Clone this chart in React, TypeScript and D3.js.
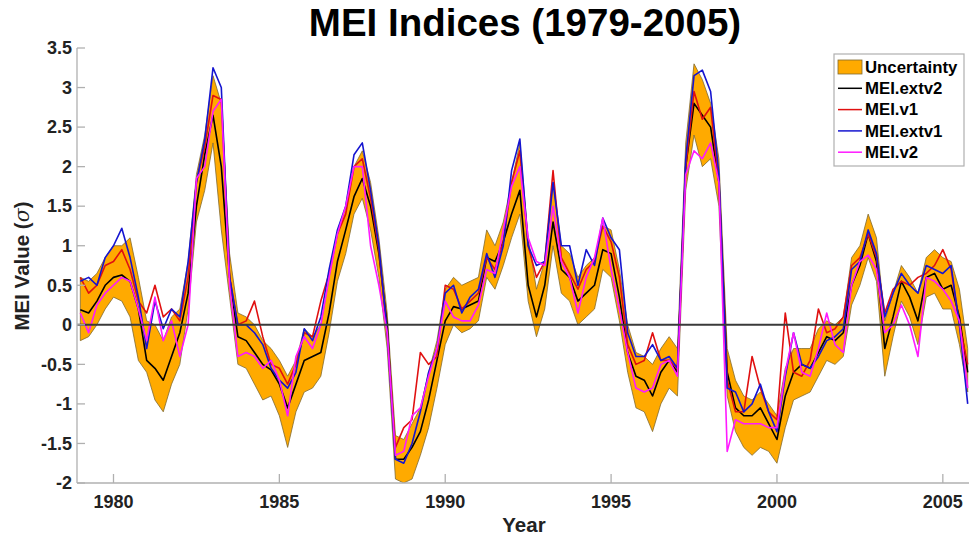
import * as React from 'react';
import * as d3 from 'd3';

// quarterly samples, first one at Jan 1979
const startYear = 1979;

const extv2 = [
  0.19, 0.15, 0.3, 0.5,
  0.6, 0.63, 0.55, 0.2,
  -0.45, -0.55, -0.7, -0.4,
  -0.1, 0.4, 1.5, 2.15,
  2.65, 2.0, 0.6, -0.15,
  -0.2, -0.35, -0.5, -0.57,
  -0.75, -1.05, -0.75, -0.45,
  -0.4, -0.35, 0.15, 0.8,
  1.2, 1.62, 1.85, 1.5,
  0.9, 0.0, -1.7, -1.7,
  -1.55, -1.35, -0.95, -0.45,
  0.05, 0.23, 0.2, 0.25,
  0.3, 0.85, 0.8, 1.05,
  1.4, 1.7, 0.5, 0.1,
  0.5, 1.3, 0.7, 0.6,
  0.3, 0.4, 0.5, 0.95,
  0.9, 0.35, -0.35, -0.65,
  -0.7, -0.9, -0.6, -0.45,
  -0.6, 2.0, 2.8, 2.65,
  2.5, 1.8, -0.6, -1.05,
  -1.15, -1.15, -1.05, -1.25,
  -1.45, -0.9, -0.6, -0.5,
  -0.55, -0.35, -0.15, -0.2,
  -0.1, 0.5, 0.75, 1.15,
  0.8, -0.3, 0.1, 0.55,
  0.35, 0.05, 0.6, 0.65,
  0.45, 0.5, 0.1, -0.6,
];

const v1 = [
  0.6, 0.4, 0.5, 0.75,
  0.8, 0.95, 0.7, 0.3,
  0.15, 0.5, 0.1, 0.2,
  0.05, 0.6, 1.8, 2.25,
  2.9, 2.85, 0.6, 0.0,
  0.05, 0.3, -0.15, -0.5,
  -0.55, -0.75, -0.5, -0.1,
  -0.15, 0.3, 0.65, 1.15,
  1.4, 2.0, 2.1, 1.6,
  0.95, -0.1, -1.55, -1.3,
  -1.2, -0.35, -0.5, -0.4,
  0.5, 0.45, 0.2, 0.3,
  0.4, 0.85, 0.7, 1.05,
  1.8, 2.2, 1.0, 0.6,
  0.8, 1.95, 0.85, 0.65,
  0.45, 0.7, 0.8, 1.25,
  1.05, 0.6, -0.25, -0.5,
  -0.45, -0.1, -0.45, -0.45,
  -0.55, 2.0, 2.95, 2.6,
  2.75, 1.8, -0.7, -1.1,
  -1.1, -0.4, -0.8, -1.1,
  -1.2, 0.15, -0.6, -0.65,
  -0.45, 0.2, -0.1, -0.05,
  0.1, 0.75, 0.85, 1.15,
  0.85, 0.15, 0.45, 0.55,
  0.5, 0.6, 0.65, 0.75,
  0.95, 0.7, 0.0, -0.5,
];

const extv1 = [
  0.55, 0.6, 0.5, 0.85,
  1.0, 1.22, 0.85, 0.35,
  -0.3, 0.3, -0.05, 0.2,
  0.1, 0.8, 1.8, 2.34,
  3.25, 3.0, 0.6, 0.0,
  0.0, -0.1, -0.25, -0.55,
  -0.7, -0.8, -0.6, -0.05,
  -0.2, 0.1, 0.7, 1.2,
  1.5, 2.15, 2.3, 1.7,
  1.0, -0.1, -1.7, -1.75,
  -1.5, -1.1, -0.6, -0.3,
  0.4, 0.5, 0.15, 0.35,
  0.45, 0.9, 0.6, 1.0,
  1.95, 2.35, 1.0, 0.75,
  0.8, 1.8, 1.0, 1.0,
  0.5, 0.95, 0.75, 1.35,
  1.1, 0.95, -0.1, -0.4,
  -0.4, -0.25, -0.45, -0.4,
  -0.55, 2.1, 3.15, 3.22,
  2.95, 1.9, -0.8, -0.85,
  -1.1, -1.0, -0.75, -1.1,
  -1.35, -0.65, -0.1, -0.5,
  -0.55, -0.4, -0.2, -0.15,
  -0.05, 0.7, 0.8, 1.2,
  0.9, 0.1, 0.4, 0.65,
  0.5, 0.4, 0.75, 0.7,
  0.65, 0.75, 0.0, -1.0,
];

const v2 = [
  0.15, -0.1, 0.25, 0.4,
  0.5, 0.6, 0.55, 0.2,
  -0.2, 0.35, -0.2, 0.05,
  -0.4, 0.0, 1.85, 2.0,
  2.7, 2.85, 0.5, -0.4,
  -0.35, -0.4, -0.55, -0.45,
  -0.7, -1.15, -0.4, -0.15,
  -0.3, 0.0, 0.6, 1.15,
  1.5, 2.0, 2.0, 1.0,
  0.5, -0.1, -1.65, -1.6,
  -1.15, -1.05, -0.65, -0.3,
  0.3, 0.1, 0.05, 0.05,
  0.25, 0.7, 0.65, 1.2,
  1.75, 2.0, 1.1, 0.8,
  0.75, 1.5, 0.8, 0.6,
  0.15, 0.6, 0.85, 1.35,
  0.7, 0.2, -0.35, -0.8,
  -0.85, -0.8, -0.5, -0.45,
  -0.65, 1.9, 2.2, 2.1,
  2.3, 1.8, -1.6, -1.2,
  -1.25, -1.25, -1.25, -1.3,
  -1.3, -0.6, -0.1, -0.6,
  -0.65, -0.3, 0.15, -0.25,
  -0.35, 0.5, 0.8, 0.88,
  0.7, -0.1, 0.0, 0.25,
  0.0, -0.4, 0.6, 0.55,
  0.45, 0.3, 0.05, -0.8,
];

const bandLow = [
  -0.2, -0.15, 0.0, 0.2,
  0.35, 0.3, 0.1, -0.45,
  -0.6, -0.95, -1.1, -0.75,
  -0.5, 0.2, 1.3, 1.7,
  2.3, 1.2, 0.35, -0.5,
  -0.55, -0.75, -0.95, -0.9,
  -1.15, -1.55, -1.1, -0.85,
  -0.8, -0.65, -0.1, 0.55,
  0.9, 1.4, 1.6, 1.2,
  0.6, -0.3, -1.95, -2.0,
  -1.95, -1.65, -1.3, -0.8,
  -0.25, 0.0, -0.1, -0.05,
  0.05, 0.6, 0.45, 0.75,
  1.1, 1.4, 0.3, -0.15,
  0.2, 1.0, 0.4, 0.3,
  0.0, 0.1, 0.2, 0.7,
  0.6, 0.05, -0.6, -1.05,
  -1.1, -1.35, -1.0, -0.8,
  -0.9, 1.7, 2.4, 2.0,
  2.1, 1.5, -0.9, -1.35,
  -1.55, -1.65, -1.55, -1.6,
  -1.75, -1.3, -0.95, -0.9,
  -0.85, -0.65, -0.45, -0.5,
  -0.4, 0.25, 0.5, 0.85,
  0.55, -0.65, -0.15, 0.3,
  0.1, -0.25, 0.35, 0.4,
  0.2, 0.2, -0.25, -0.85,
];

const bandHigh = [
  0.6, 0.55, 0.65, 0.85,
  1.0, 1.0, 1.1, 0.6,
  0.05, 0.0, -0.2, 0.1,
  0.2, 0.8, 1.9, 2.4,
  3.15, 2.8, 0.9, 0.15,
  0.1, 0.0, -0.2, -0.3,
  -0.45, -0.65, -0.45, -0.05,
  -0.15, 0.0, 0.6, 1.15,
  1.5, 2.0, 2.2, 1.8,
  1.1, 0.15, -1.4, -1.45,
  -1.25, -1.05, -0.6, -0.2,
  0.45, 0.6, 0.5, 0.55,
  0.6, 1.2, 1.0, 1.3,
  1.8, 2.3, 1.1, 0.45,
  0.8, 1.8, 1.0, 0.9,
  0.6, 0.75, 0.85, 1.25,
  1.2, 0.7, 0.0, -0.35,
  -0.4, -0.5, -0.3, -0.15,
  -0.3, 2.3, 3.3, 3.1,
  2.8, 2.1, -0.3, -0.7,
  -0.9, -0.95, -0.85, -1.0,
  -1.15, -0.55, -0.3, -0.3,
  -0.3, -0.05, 0.05, 0.0,
  0.1, 0.85, 1.0, 1.4,
  1.1, 0.05, 0.4, 0.75,
  0.6, 0.4, 0.85, 0.95,
  0.85, 0.8, 0.45, -0.3,
];

const xTicks = [1980, 1985, 1990, 1995, 2000, 2005];
const yTicks = [-2, -1.5, -1, -0.5, 0, 0.5, 1, 1.5, 2, 2.5, 3, 3.5];

const seriesNames = ['MEI.extv2', 'MEI.v1', 'MEI.extv1', 'MEI.v2'];
const seriesData = [extv2, v1, extv1, v2];
const seriesColors = ['#000000', '#e01010', '#1515d0', '#ff1aff'];

const font = '"Liberation Sans", Arial, Helvetica, sans-serif';

export default function App() {
  const w = 969;
  const h = 542;
  const left = 77, top = 48, bottom = 483, right = 969;

  const x = d3.scaleLinear().domain([1978.9, 2006]).range([77, 976]);
  const y = d3.scaleLinear().domain([-2, 3.5]).range([bottom, top]);

  const t = (i: number) => startYear + i / 4;

  const area = d3.area<number>()
    .x((_, i) => x(t(i)))
    .y0((_, i) => y(bandLow[i]))
    .y1((_, i) => y(bandHigh[i]));

  const line = d3.line<number>()
    .x((_, i) => x(t(i)))
    .y(d => y(d));

  const legendX = 834, legendY = 54;
  const rowH = 21.3;

  return (
    <svg width={w} height={h} style={{ position: 'absolute', left: 0, top: 0, background: '#fff' }}
      fontFamily={font}>
      <defs>
        <clipPath id="plot">
          <rect x={left} y={top - 2} width={right - left} height={bottom - top + 2} />
        </clipPath>
      </defs>

      <text x={525} y={36} textAnchor="middle" fontSize={38.5} fontWeight="bold" fill="#000">
        MEI Indices (1979-2005)
      </text>

      <g clipPath="url(#plot)">
        <path d={area(bandLow) ?? ''} fill="#ffaa00" stroke="#806a30" strokeWidth={0.8} />
        {seriesData.map((s, k) => (
          <path key={seriesNames[k]} d={line(s) ?? ''} fill="none"
            stroke={seriesColors[k]} strokeWidth={1.6} strokeLinejoin="round" />
        ))}
        <line x1={left} x2={right} y1={y(0)} y2={y(0)} stroke="#3a3a3a" strokeWidth={2} />
      </g>

      {/* axes */}
      <line x1={left} x2={left} y1={top} y2={bottom} stroke="#b0b0b0" strokeWidth={1.3} />
      <line x1={left} x2={right} y1={bottom} y2={bottom} stroke="#b0b0b0" strokeWidth={1.3} />
      {yTicks.map(v => (
        <g key={v}>
          <line x1={left} x2={left + 8} y1={y(v)} y2={y(v)} stroke="#b0b0b0" strokeWidth={1.3} />
          <text x={left - 5} y={y(v)} dy="0.35em" textAnchor="end" fontSize={18}
            fontWeight="bold" fill="#222">{String(v)}</text>
        </g>
      ))}
      {xTicks.map(v => (
        <g key={v}>
          <line x1={x(v)} x2={x(v)} y1={bottom} y2={bottom - 9} stroke="#b0b0b0" strokeWidth={1.3} />
          <text x={x(v)} y={bottom + 25} textAnchor="middle" fontSize={18}
            fontWeight="bold" fill="#222">{String(v)}</text>
        </g>
      ))}

      <text x={524} y={532} textAnchor="middle" fontSize={20.5} fontWeight="bold" fill="#222">Year</text>
      <text transform={`translate(29, 266) rotate(-90)`} textAnchor="middle" fontSize={20.5}
        fontWeight="bold" fill="#222">
        MEI Value (<tspan fontStyle="italic" fontWeight="normal" fontFamily='"DejaVu Serif", serif'>σ</tspan>)
      </text>

      {/* legend */}
      <rect x={legendX} y={legendY} width={130} height={112} fill="#fff" stroke="#b0b0b0" strokeWidth={1.2} />
      <rect x={838} y={60} width={24} height={14} fill="#ffaa00" stroke="#806a30" strokeWidth={0.8} />
      <text x={865} y={67} dy="0.35em" fontSize={16.8} fontWeight="bold" fill="#000">Uncertainty</text>
      {seriesNames.map((n, k) => {
        const cy = 67 + rowH * (k + 1);
        return (
          <g key={n}>
            <line x1={838} x2={862} y1={cy} y2={cy} stroke={seriesColors[k]} strokeWidth={1.5} />
            <text x={865} y={cy} dy="0.35em" fontSize={16.8} fontWeight="bold" fill="#000">{n}</text>
          </g>
        );
      })}
    </svg>
  );
}
